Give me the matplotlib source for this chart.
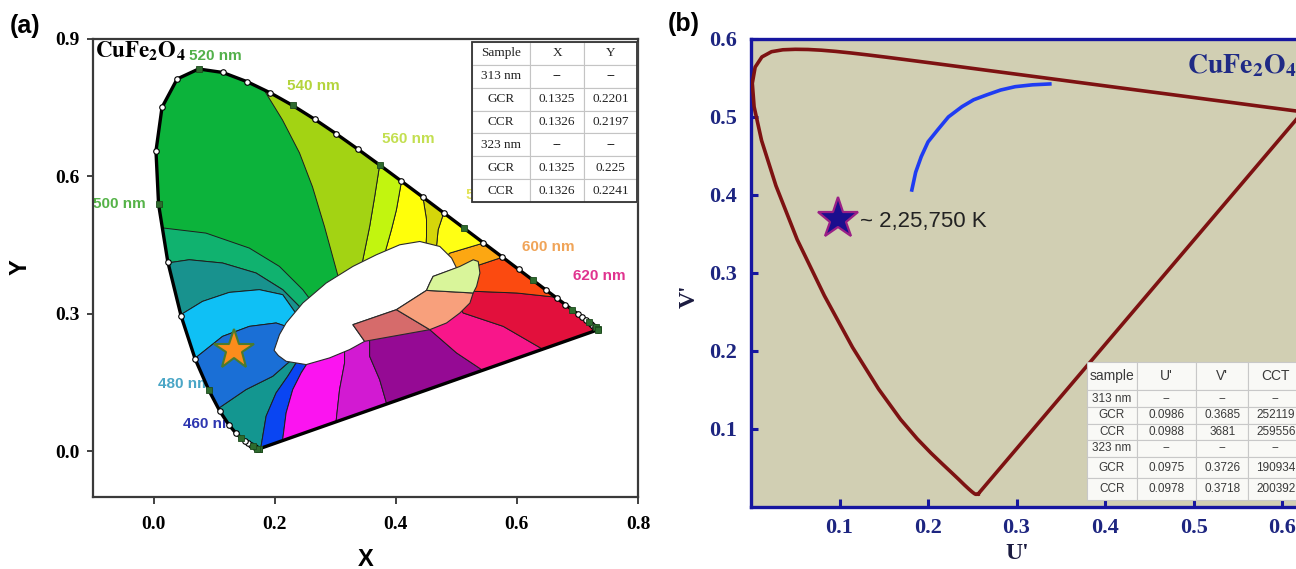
import numpy as np
import matplotlib
matplotlib.use("Agg")
import matplotlib.pyplot as plt
from matplotlib.patches import Polygon, Rectangle

plt.rcParams["mathtext.fontset"] = "stix"

# CIE 1931 spectral locus (2 deg observer), 380-700 nm every 5 nm
wavelengths = np.arange(380, 705, 5)
locus_x = [0.1741, 0.1740, 0.1738, 0.1736, 0.1733, 0.1730, 0.1726, 0.1721, 0.1714, 0.1703,
           0.1689, 0.1669, 0.1644, 0.1611, 0.1566, 0.1510, 0.1440, 0.1355, 0.1241, 0.1096,
           0.0913, 0.0687, 0.0454, 0.0235, 0.0082, 0.0039, 0.0139, 0.0389, 0.0743, 0.1142,
           0.1547, 0.1929, 0.2296, 0.2658, 0.3016, 0.3373, 0.3731, 0.4087, 0.4441, 0.4788,
           0.5125, 0.5448, 0.5752, 0.6029, 0.6270, 0.6482, 0.6658, 0.6801, 0.6915, 0.7006,
           0.7079, 0.7140, 0.7190, 0.7230, 0.7260, 0.7283, 0.7300, 0.7311, 0.7320, 0.7327,
           0.7334, 0.7340, 0.7344, 0.7346, 0.7347]
locus_y = [0.0050, 0.0050, 0.0049, 0.0049, 0.0048, 0.0048, 0.0048, 0.0048, 0.0051, 0.0058,
           0.0069, 0.0086, 0.0109, 0.0138, 0.0177, 0.0227, 0.0297, 0.0399, 0.0578, 0.0868,
           0.1327, 0.2007, 0.2950, 0.4127, 0.5384, 0.6548, 0.7502, 0.8120, 0.8338, 0.8262,
           0.8059, 0.7816, 0.7543, 0.7243, 0.6923, 0.6589, 0.6245, 0.5896, 0.5547, 0.5202,
           0.4866, 0.4544, 0.4242, 0.3965, 0.3725, 0.3514, 0.3340, 0.3197, 0.3083, 0.2993,
           0.2920, 0.2859, 0.2809, 0.2770, 0.2740, 0.2717, 0.2700, 0.2689, 0.2680, 0.2673,
           0.2666, 0.2660, 0.2656, 0.2654, 0.2653]

# wavelength captions around the locus
nm_labels = ["520 nm", "540 nm", "560 nm", "580 nm", "600 nm", "620 nm", "500 nm", "480 nm", "460 nm"]
nm_label_x = [0.102, 0.264, 0.420, 0.559, 0.652, 0.736, -0.057, 0.0505, 0.092]
nm_label_y = [0.862, 0.797, 0.681, 0.559, 0.446, 0.383, 0.539, 0.1475, 0.060]
nm_label_colors = ["#52b04a", "#b4d43c", "#c3df50", "#e3e35a", "#f0a458", "#e0338f",
                   "#55b348", "#4aa6c6", "#2d36b0"]

# colour-zone boundaries, from the locus inwards (x, y)
edge_azure_teal = [(0.1084, 0.0946), (0.1526, 0.1344), (0.1967, 0.1634), (0.2243, 0.1954)]
edge_teal_blue = [(0.1775, 0.0109), (0.1858, 0.0763), (0.2023, 0.1272), (0.2215, 0.1634), (0.2409, 0.2041)]
edge_blue_magenta = [(0.2132, 0.0255), (0.2189, 0.0837), (0.2298, 0.1344), (0.2437, 0.1708), (0.2608, 0.2063)]
edge_magenta_orchid = [(0.3017, 0.0691), (0.3071, 0.1344), (0.3154, 0.1926), (0.3154, 0.2303)]
edge_orchid_purple = [(0.3844, 0.1054), (0.3733, 0.1562), (0.3568, 0.2070), (0.3568, 0.2521)]
edge_purple_pink = [(0.5417, 0.1780), (0.5003, 0.2144), (0.4561, 0.2651), (0.4561, 0.2826)]
edge_pink_crimson = [(0.6437, 0.2216), (0.5775, 0.2723), (0.5113, 0.3015), (0.5058, 0.3131)]
edge_crimson_red = [(0.6520, 0.3377), (0.5997, 0.3451), (0.5334, 0.3486), (0.5224, 0.3479)]
edge_red_orange = [(0.5720, 0.4214), (0.5389, 0.4068), (0.5224, 0.4002)]
edge_orange_yellow = [(0.5444, 0.4540), (0.4892, 0.4322), (0.4810, 0.4220)]
edge_yellow_olive = [(0.4781, 0.5157), (0.4699, 0.4830), (0.4672, 0.4466), (0.4660, 0.4351)]
edge_olive_gold = [(0.4450, 0.5521), (0.4507, 0.5048), (0.4507, 0.4684), (0.4495, 0.4481)]
edge_gold_lime = [(0.4093, 0.5882), (0.4010, 0.5266), (0.3927, 0.4830), (0.3816, 0.4307)]
edge_lime_chartreuse = [(0.3733, 0.6246), (0.3651, 0.5556), (0.3568, 0.4902), (0.3435, 0.4046)]
edge_chartreuse_green = [(0.1858, 0.7808), (0.2128, 0.7227), (0.2409, 0.6508), (0.2624, 0.5767),
                         (0.2823, 0.4895), (0.3071, 0.3697)]
edge_green_sea = [(0.0174, 0.4867), (0.0864, 0.4758), (0.1581, 0.4431), (0.2078, 0.4031),
                  (0.2464, 0.3523), (0.2629, 0.3233)]
edge_sea_teal = [(0.0228, 0.4105), (0.0588, 0.4176), (0.1139, 0.4105), (0.1692, 0.3887),
                 (0.2132, 0.3523), (0.2492, 0.3044)]
edge_teal_sky = [(0.0450, 0.2978), (0.0808, 0.3268), (0.1250, 0.3464), (0.1747, 0.3523),
                 (0.2132, 0.3414), (0.2376, 0.2956)]
edge_sky_azure = [(0.0725, 0.2070), (0.1139, 0.2505), (0.1581, 0.2723), (0.2023, 0.2797),
                  (0.2189, 0.2723), (0.2243, 0.2608)]
hub = (0.4065, 0.3284)

# central patches laid over the zones
white_core = [(0.1990, 0.2200), (0.2078, 0.2542), (0.2189, 0.2797), (0.2464, 0.3233), (0.2851, 0.3669),
              (0.3291, 0.4031), (0.3679, 0.4285), (0.4065, 0.4503), (0.4396, 0.4575), (0.4727, 0.4466),
              (0.4921, 0.4214), (0.5003, 0.3996), (0.4616, 0.3813), (0.4561, 0.3669), (0.4507, 0.3508),
              (0.4010, 0.3087), (0.3291, 0.2760), (0.3485, 0.2397), (0.3237, 0.2216), (0.2906, 0.2035),
              (0.2520, 0.1889), (0.2189, 0.1961), (0.2061, 0.2085)]
rose_patch = [(0.3291, 0.2760), (0.4010, 0.3087), (0.4561, 0.2651), (0.3485, 0.2397)]
salmon_patch = [(0.4010, 0.3087), (0.4507, 0.3508), (0.5278, 0.3451), (0.5224, 0.3233),
                (0.5058, 0.3015), (0.4838, 0.2797), (0.4561, 0.2651)]
mint_patch = [(0.4507, 0.3508), (0.4561, 0.3669), (0.4616, 0.3813), (0.4838, 0.3922), (0.5058, 0.4031),
              (0.5278, 0.4176), (0.5361, 0.4139), (0.5389, 0.3887), (0.5334, 0.3595), (0.5278, 0.3451)]

# sample chromaticity tables
cie_header = ["Sample", "X", "Y"]
cie_rows = [["313 nm", "--", "--"], ["GCR", "0.1325", "0.2201"], ["CCR", "0.1326", "0.2197"],
            ["323 nm", "--", "--"], ["GCR", "0.1325", "0.225"], ["CCR", "0.1326", "0.2241"]]
ucs_header = ["sample", "U'", "V'", "CCT"]
ucs_rows = [["313 nm", "--", "--", "--"], ["GCR", "0.0986", "0.3685", "252119"],
            ["CCR", "0.0988", "3681", "259556"], ["323 nm", "--", "--", "--"],
            ["GCR", "0.0975", "0.3726", "190934"], ["CCR", "0.0978", "0.3718", "200392"]]
sample_x, sample_y = 0.1325, 0.2201
sample_u, sample_v = 0.0986, 0.3685

# Planckian locus segment in u'v'
planck_u = [0.1817, 0.1860, 0.1923, 0.2000, 0.2108, 0.2230, 0.2384, 0.2515, 0.2661,
            0.2820, 0.2984, 0.3180, 0.3376]
planck_v = [0.4063, 0.4290, 0.4490, 0.4680, 0.4833, 0.5000, 0.5132, 0.5220, 0.5282,
            0.5345, 0.5388, 0.5412, 0.5423]


def reach_out(line, reach=0.12):
    d = line[0] - line[1]
    return line[0] + reach * d / np.hypot(*d)


def zone_vertices(first, second, extra=()):
    first = np.asarray(first, float)
    second = np.asarray(second, float)
    pts = [reach_out(first)] + list(first) + [np.array(hub)] + list(second[::-1]) + [reach_out(second)]
    pts += [np.array(p) for p in extra]
    return np.array(pts)


zones = [
    ("#139690", edge_azure_teal, edge_teal_blue, [(0.06, -0.10)]),
    ("#0a45f2", edge_teal_blue, edge_blue_magenta, []),
    ("#fb14f0", edge_blue_magenta, edge_magenta_orchid, []),
    ("#d21ad2", edge_magenta_orchid, edge_orchid_purple, []),
    ("#950a94", edge_orchid_purple, edge_purple_pink, []),
    ("#f8168a", edge_purple_pink, edge_pink_crimson, []),
    ("#e2103c", edge_pink_crimson, edge_crimson_red, [(0.90, 0.27)]),
    ("#fb4a10", edge_crimson_red, edge_red_orange, []),
    ("#fca712", edge_red_orange, edge_orange_yellow, []),
    ("#ffff14", edge_orange_yellow, edge_yellow_olive, []),
    ("#d5d60a", edge_yellow_olive, edge_olive_gold, []),
    ("#ffff0a", edge_olive_gold, edge_gold_lime, []),
    ("#c2f50f", edge_gold_lime, edge_lime_chartreuse, []),
    ("#a3d313", edge_lime_chartreuse, edge_chartreuse_green, []),
    ("#10b26f", edge_green_sea, edge_sea_teal, []),
    ("#18928e", edge_sea_teal, edge_teal_sky, []),
    ("#0fc0f5", edge_teal_sky, edge_sky_azure, []),
    ("#1a6fd6", edge_sky_azure, edge_azure_teal, []),
]

serif_tick = dict(fontfamily="Liberation Serif", fontweight="bold")

fig = plt.figure(figsize=(12.96, 5.69), dpi=100)

# ---------------- (a) CIE 1931 diagram ----------------
ax1 = fig.add_axes([0.0718, 0.1265, 0.4205, 0.8056])
ax1.set_xlim(-0.1, 0.8)
ax1.set_ylim(-0.1, 0.9)

locus_pts = np.column_stack([locus_x, locus_y])
base = Polygon(locus_pts, closed=True, facecolor="#0cb33b", edgecolor="none", zorder=2)
ax1.add_patch(base)

for color, first, second, extra in zones:
    poly = Polygon(zone_vertices(first, second, extra), closed=True, facecolor=color,
                   edgecolor="#1e1e1e", linewidth=0.7, zorder=3)
    ax1.add_patch(poly)
    poly.set_clip_path(base)

for shape, color in [(white_core, "white"), (rose_patch, "#d66b6b"),
                     (salmon_patch, "#f8a07c"), (mint_patch, "#d9f59a")]:
    ax1.add_patch(Polygon(shape, closed=True, facecolor=color, edgecolor="#2a2a2a",
                          linewidth=0.8, zorder=4))

ax1.plot(np.append(locus_x, locus_x[0]), np.append(locus_y, locus_y[0]),
         color="black", lw=2.4, zorder=5)
every20 = wavelengths % 20 == 0
lx = np.array(locus_x)
ly = np.array(locus_y)
ax1.plot(lx[~every20], ly[~every20], "o", ms=4, mfc="white", mec="black", mew=0.8, zorder=6)
ax1.plot(lx[every20], ly[every20], "s", ms=4.5, mfc="#2e6b2e", mec="#1d4a1d", mew=0.6, zorder=6)

for text, x, y, c in zip(nm_labels, nm_label_x, nm_label_y, nm_label_colors):
    ax1.text(x, y, text, color=c, fontsize=11, fontweight="bold", fontfamily="Liberation Sans",
             ha="center", va="center", zorder=1, clip_on=True)

ax1.plot(sample_x, sample_y, marker="*", ms=30, color="#fb8c1c", mec="#4a7a30", mew=1.5, zorder=7)

ax1.text(0.004, 0.958, r"$\mathbf{CuFe_2O_4}$", transform=ax1.transAxes, fontsize=16.5,
         color="black", va="baseline", ha="left", zorder=9)

tbl = ax1.table(cellText=cie_rows, colLabels=cie_header, cellLoc="center",
                colWidths=[0.352, 0.327, 0.321], bbox=[0.6954, 0.6435, 0.3028, 0.349])
tbl.auto_set_font_size(False)
for (r, c), cell in tbl.get_celld().items():
    cell.set_edgecolor("#c4c4c4")
    cell.set_linewidth(0.8)
    cell.set_facecolor("white")
    cell.get_text().set_fontfamily("Liberation Serif")
    cell.get_text().set_fontsize(9.5)
    cell.get_text().set_color("#222222")
tbl.set_zorder(8)
ax1.add_patch(Rectangle((0.6954, 0.6435), 0.3028, 0.349, transform=ax1.transAxes,
                        fill=False, edgecolor="#333333", linewidth=1.3, zorder=9))

ax1.set_xticks([0.0, 0.2, 0.4, 0.6, 0.8], labels=["0.0", "0.2", "0.4", "0.6", "0.8"],
               fontsize=14, **serif_tick)
ax1.set_yticks([0.0, 0.3, 0.6, 0.9], labels=["0.0", "0.3", "0.6", "0.9"], fontsize=14, **serif_tick)
ax1.tick_params(axis="x", direction="out", length=5, width=1.3, pad=9, color="#333333")
ax1.tick_params(axis="y", direction="out", length=4.5, width=1.3, pad=5, color="#333333")
for sp in ax1.spines.values():
    sp.set_color("#3a3a3a")
    sp.set_linewidth(1.6)
ax1.set_xlabel("X", fontsize=17, fontweight="bold", fontfamily="Liberation Sans")
ax1.set_ylabel("Y", fontsize=17, fontweight="bold", fontfamily="Liberation Sans")
ax1.xaxis.set_label_coords(0.5, -0.112)
ax1.yaxis.set_label_coords(-0.112, 0.502)

# ---------------- (b) CIE 1976 u'v' diagram ----------------
ax2 = fig.add_axes([0.5795, 0.1095, 0.4439, 0.822])
ax2.set_xlim(0, 0.65)
ax2.set_ylim(0, 0.6)
ax2.set_facecolor("#d1cfb3")

lx_arr = np.array(locus_x)
ly_arr = np.array(locus_y)
denom = -2 * lx_arr + 12 * ly_arr + 3
loc_u = 4 * lx_arr / denom
loc_v = 9 * ly_arr / denom
ax2.plot(np.append(loc_u, loc_u[0]), np.append(loc_v, loc_v[0]), color="#7d1212", lw=2.6,
         solid_joinstyle="round", zorder=3)
ax2.plot(planck_u, planck_v, color="#1f3cf2", lw=2.6, solid_joinstyle="round", zorder=3)
ax2.plot(sample_u, sample_v, marker="*", ms=31, color="#1b0e8e", mec="#9a1f86", mew=1.6, zorder=5)
ax2.text(0.1232, 0.366, "~ 2,25,750 K", fontsize=16, fontfamily="Liberation Sans",
         color="#222222", va="center", ha="left", zorder=5)
ax2.text(0.4921, 0.5564, r"$\mathbf{CuFe_2O_4}$", fontsize=20, color="#1f2a85",
         va="baseline", ha="left", zorder=5)

tbl2 = ax2.table(cellText=ucs_rows, colLabels=ucs_header, cellLoc="center",
                 colWidths=[0.233, 0.272, 0.243, 0.252], bbox=[0.5832, 0.0143, 0.3763, 0.295])
tbl2.auto_set_font_size(False)
row_heights = [0.205, 0.1205, 0.1205, 0.1205, 0.1205, 0.157, 0.157]
for (r, c), cell in tbl2.get_celld().items():
    cell.set_height(row_heights[r])
    cell.set_edgecolor("#c8c8c8")
    cell.set_linewidth(0.8)
    cell.set_facecolor("#f9f9f6")
    cell.get_text().set_fontfamily("Liberation Sans")
    cell.get_text().set_fontsize(10 if r == 0 else 8.5)
    cell.get_text().set_color("#3a3a3a")
tbl2.set_zorder(6)

ax2.set_xticks([0.1, 0.2, 0.3, 0.4, 0.5, 0.6], labels=["0.1", "0.2", "0.3", "0.4", "0.5", "0.6"],
               fontsize=16, color="#1d2580", **serif_tick)
ax2.set_yticks([0.1, 0.2, 0.3, 0.4, 0.5, 0.6], labels=["0.1", "0.2", "0.3", "0.4", "0.5", "0.6"],
               fontsize=16, color="#1d2580", **serif_tick)
ax2.tick_params(axis="x", direction="in", length=6, width=2.2, pad=8, color="#1616a0")
ax2.tick_params(axis="y", direction="in", length=5, width=2.2, pad=10, color="#1616a0")
for sp in ax2.spines.values():
    sp.set_color("#1616a0")
    sp.set_linewidth(2.4)
ax2.set_xlabel("U'", fontsize=17, fontweight="bold", fontfamily="Liberation Serif", color="#1b1b40")
ax2.set_ylabel("V'", fontsize=17, fontweight="bold", fontfamily="Liberation Serif", color="#1b1b40")
ax2.xaxis.set_label_coords(0.462, -0.078)
ax2.yaxis.set_label_coords(-0.089, 0.45)

fig.text(10 / 1296, 1 - 14 / 569, "(a)", fontsize=18, fontweight="bold",
         fontfamily="Liberation Sans", va="top", ha="left")
fig.text(668 / 1296, 1 - 12 / 569, "(b)", fontsize=18, fontweight="bold",
         fontfamily="Liberation Sans", va="top", ha="left")

fig.savefig("out.png", dpi=100)
